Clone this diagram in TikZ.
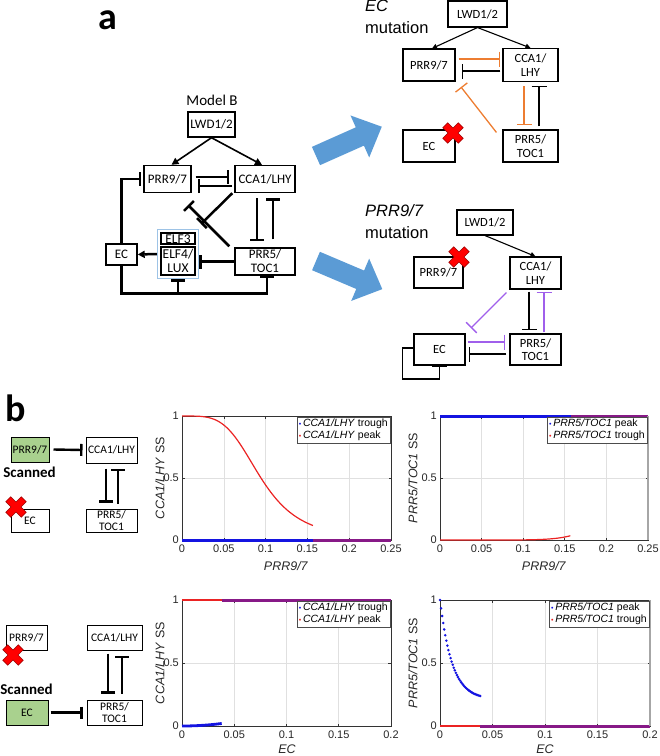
\documentclass[tikz,border=0pt]{standalone}
\usepackage{fontspec}
\setmainfont{Carlito}
\newfontfamily\plotfont{Liberation Sans}
\usetikzlibrary{arrows.meta,fit}

\definecolor{arrowblue}{RGB}{91,155,213}
\definecolor{grpblue}{RGB}{157,195,230}
\definecolor{ecorange}{RGB}{237,125,49}
\definecolor{pmpurple}{RGB}{160,95,235}
\definecolor{scangreen}{RGB}{169,209,142}
\definecolor{xred}{RGB}{255,0,0}
\definecolor{xdark}{RGB}{150,0,0}
\definecolor{mblue}{RGB}{20,20,225}
\definecolor{mred}{RGB}{235,35,35}
\definecolor{mpurple}{RGB}{135,25,135}

\tikzset{
  gene/.style={draw, line width=1.1pt, inner sep=0pt, align=center,
    font=\fontsize{12.5}{13.5}\selectfont},
  boxsize/.style 2 args={minimum width=#1, minimum height=#2},
  act/.style={-{Triangle[length=7pt,width=7pt]}},
  acts/.style={-{Triangle[length=5pt,width=5pt]}},
  inh/.style={-{Bar[width=14pt]}},
  inhs/.style={-{Bar[width=15pt]}},
  mbline/.style={line width=2.5pt},
  thinline/.style={line width=1.3pt},
  bline/.style={line width=2.4pt},
  gridline/.style={draw=black!12, line width=0.6pt},
  axisline/.style={draw=black!80, line width=0.6pt},
  thickdata/.style={draw=#1, line width=2.8pt},
  thindata/.style={draw=#1, line width=1.2pt},
  ticklab/.style={font=\plotfont\fontsize{11}{11}\selectfont, text=black!85, inner sep=2pt},
  axlab/.style={font=\plotfont\fontsize{12.5}{12.5}\selectfont, text=black!85},
  legend/.style={draw=black!70, fill=white, line width=0.5pt, anchor=north east,
    font=\plotfont\fontsize{10.5}{12}\selectfont, align=left, inner sep=2pt},
}

% red cross for a mutated gene
\newcommand{\knockout}[1]{%
  \begin{scope}[shift={#1}, rotate=45]
    \filldraw[fill=xred, draw=xdark, line width=0.6pt] (-3.5,-11) -- (3.5,-11) -- (3.5,-3.5)
      -- (11,-3.5) -- (11,3.5) -- (3.5,3.5) -- (3.5,11) -- (-3.5,11) -- (-3.5,3.5)
      -- (-11,3.5) -- (-11,-3.5) -- (-3.5,-3.5) -- cycle;
  \end{scope}}

% grid of one plot
\newcommand{\plotgrid}[2]{%
  \foreach \gx in {#2} {\draw[gridline] (\gx,0) -- (\gx,1);}
  \draw[gridline] (0,0.5) -- (#1,0.5);}

% frame, ticks and tick labels of one plot
\newcommand{\plotframe}[3]{%
  \draw[axisline] (0,0) rectangle (#2,1);
  \foreach \gx [count=\k] in {#3} {
    \draw[axisline] (\gx,0) -- ++(0,2.5pt) (\gx,1) -- ++(0,-2.5pt);
    \node[ticklab, anchor=north, yshift=-3pt] (#1x\k) at (\gx,0) {\gx};
  }
  \foreach \gy [count=\k] in {0,0.5,1} {
    \draw[axisline] (0,\gy) -- ++(2.5pt,0) (#2,\gy) -- ++(-2.5pt,0);
    \node[ticklab, anchor=east, xshift=-1pt] (#1y\k) at (0,\gy) {\gy};
  }}

% thick horizontal band of data points: colour, y, x from, x to
\newcommand{\databand}[4]{%
  \fill[#1] ([yshift=-1.5pt]#3,#2) rectangle ([yshift=1.5pt]#4,#2);}

\newcommand{\ldot}[1]{\textcolor{#1}{\fontsize{7}{7}\selectfont\raisebox{0.8pt}{•}}\,}

\begin{document}
\begin{tikzpicture}[x=1pt, y=-1pt]
\useasboundingbox (0,0) rectangle (660,756);

% Etichette dei pannelli
\node[font=\bfseries\fontsize{38}{38}\selectfont] (labA) at (108,20) {a};
\node[font=\bfseries\fontsize{38}{38}\selectfont] (labB) at (16,408) {b};

% Model B
\node[font=\fontsize{15}{15}\selectfont] (mbTitle) at (212,100) {Model B};
\begin{scope}[every node/.style={gene, line width=1.4pt, font=\fontsize{13}{14}\selectfont}]
  \node[boxsize={47pt}{25pt}] (mbLWD) at (211.5,124.5) {LWD1/2};
  \node[boxsize={47pt}{27pt}] (mbPRR97) at (167.5,179) {PRR9/7};
  \node[boxsize={60pt}{27pt}] (mbCCA) at (265,179) {CCA1/LHY};
  \node[boxsize={31pt}{21pt}] (mbEC) at (121.5,254.5) {EC};
  \node[boxsize={34pt}{11pt}, text height=9pt, text depth=0pt,
    font=\fontsize{13.5}{14}\selectfont] (mbELF3) at (178,238.5) {ELF3};
  \node[boxsize={34pt}{28pt}, font=\fontsize{13.5}{14}\selectfont] (mbELF) at (178,261) {ELF4/\\LUX};
  \node[boxsize={60pt}{27pt}] (mbPRR5) at (265,261.5) {PRR5/\\TOC1};
\end{scope}
\node[draw=grpblue, line width=1pt, inner sep=3pt, fit=(mbELF3)(mbELF)] (mbECgrp) {};

\coordinate (mbBarA) at (188,205);
\coordinate (mbBarB) at (201,224);
\draw[line width=1.6pt, act] (mbLWD.south) -- ([xshift=4pt]mbPRR97.north);
\draw[line width=1.6pt, act] (mbLWD.south) -- ([xshift=-3pt]mbCCA.north);
\draw[mbline, inh] ([xshift=4pt,yshift=2pt]mbPRR97.east) -- ([xshift=-5pt,yshift=2pt]mbCCA.west);
\draw[mbline, inh] ([xshift=-2pt,yshift=-7pt]mbCCA.west) -- ([xshift=6pt,yshift=-7pt]mbPRR97.east);
\draw[mbline, inh] ([xshift=-8pt,yshift=-5pt]mbCCA.south) -- ([xshift=-8pt,yshift=6pt]mbPRR5.north);
\draw[mbline, inh] ([xshift=8pt,yshift=8pt]mbPRR5.north) -- ([xshift=8pt,yshift=-5pt]mbCCA.south);
\draw[mbline, inh] ([xshift=-5pt,yshift=1pt]mbPRR5.north west) -- (mbBarA);
\draw[mbline, inh] ([xshift=-2pt]mbCCA.south west) -- (mbBarB);
\draw[mbline, act] (mbECgrp.west) -- (mbEC.east);
\draw[mbline, inh] (mbPRR5.west) -- (mbPRR5.west -| mbECgrp.east);
\draw[mbline, inh] (mbEC.north) |- ([xshift=-2pt]mbPRR97.west);
\draw[mbline, inh] (mbEC.south) -- ++(0,28) coordinate (mbLoop) -| ([xshift=2pt]mbPRR5.south);
\draw[mbline, inh] (mbLoop -| mbECgrp.south) -- (mbECgrp.south);

% Frecce blu
\begin{scope}[shift={(316,156)}, rotate=24]
  \fill[arrowblue] (0,-10) -- (48,-10) -- (48,-23) -- (72,0) -- (48,23) -- (48,10) -- (0,10) -- cycle;
\end{scope}
\begin{scope}[shift={(316,261)}, rotate=-23]
  \fill[arrowblue] (0,-10) -- (48,-10) -- (48,-23) -- (72,0) -- (48,23) -- (48,10) -- (0,10) -- cycle;
\end{scope}

% EC mutation
\node[anchor=north west, align=left, inner sep=0pt,
  font=\plotfont\fontsize{16.5}{22}\selectfont] (ecTitle) at (365,0) {\textit{EC}\\mutation};
\node[gene, boxsize={59pt}{26pt}] (ecLWD) at (477.5,14) {LWD1/2};
\node[gene, boxsize={52pt}{32pt}] (ecPRR97) at (429,65) {PRR9/7};
\node[gene, boxsize={55pt}{33pt}] (ecCCA) at (530.5,65) {CCA1/\\LHY};
\node[gene, boxsize={52pt}{32pt}] (ecEC) at (429,146) {EC};
\node[gene, boxsize={55pt}{32pt}] (ecPRR5) at (530.5,146) {PRR5/\\TOC1};
\coordinate (ecBar) at (461,87);
\draw[line width=1.1pt, acts] (ecLWD.south) -- ([xshift=3pt]ecPRR97.north);
\draw[line width=1.1pt, acts] (ecLWD.south) -- (ecCCA.north);
\draw[thinline, ecorange, inhs] ([xshift=3pt,yshift=6pt]ecPRR97.east) -- ([xshift=-2pt,yshift=6pt]ecCCA.west);
\draw[thinline, inhs] ([xshift=-2pt,yshift=-6pt]ecCCA.west) -- ([xshift=6pt,yshift=-6pt]ecPRR97.east);
\draw[thinline, ecorange, inhs] ([xshift=-6.5pt,yshift=-4pt]ecCCA.south) -- ([xshift=-6.5pt,yshift=4pt]ecPRR5.north);
\draw[thinline, inhs] ([xshift=8.5pt,yshift=3pt]ecPRR5.north) -- ([xshift=8.5pt,yshift=-4pt]ecCCA.south);
\draw[thinline, ecorange, inhs] ([xshift=-6pt,yshift=-3pt]ecPRR5.north west) -- (ecBar);
\knockout{(453,133)}

% PRR9/7 mutation
\node[anchor=north west, align=left, inner sep=0pt,
  font=\plotfont\fontsize{16.5}{22}\selectfont] (pmTitle) at (365,204) {\textit{PRR9/7}\\mutation};
\node[gene, boxsize={56pt}{25pt}] (pmLWD) at (485,222.5) {LWD1/2};
\node[gene, boxsize={49pt}{31pt}] (pmPRR97) at (438.5,272.5) {PRR9/7};
\node[gene, boxsize={51pt}{32pt}] (pmCCA) at (535.5,273) {CCA1/\\LHY};
\node[gene, boxsize={51pt}{31pt}] (pmEC) at (439.5,349.5) {EC};
\node[gene, boxsize={51pt}{31pt}] (pmPRR5) at (535.5,349.5) {PRR5/\\TOC1};
\coordinate (pmBar) at (471,328);
\draw[line width=1.1pt, acts] (pmLWD.south) -- (pmCCA.north);
\draw[thinline, pmpurple, inhs] ([xshift=-3pt,yshift=-3pt]pmCCA.south west) -- (pmBar);
\draw[thinline, inhs] ([xshift=-6.5pt,yshift=-2pt]pmCCA.south) -- ([xshift=-6.5pt,yshift=3pt]pmPRR5.north);
\draw[thinline, pmpurple, inhs] ([xshift=8.5pt,yshift=1pt]pmPRR5.north) -- ([xshift=8.5pt,yshift=-2pt]pmCCA.south);
\draw[thinline, pmpurple, inhs] ([xshift=2pt,yshift=7.5pt]pmEC.east) -- ([xshift=-4pt,yshift=7.5pt]pmPRR5.west);
\draw[thinline, inhs] ([xshift=-3pt,yshift=-4.5pt]pmPRR5.west) -- ([xshift=3pt,yshift=-4.5pt]pmEC.east);
\draw[thinline, inhs] ([yshift=1.5pt]pmEC.west) -| ++(-11,31) -| (pmEC.south);
\knockout{(459,257)}

% Pannello b, riga 1
\begin{scope}[every node/.style={gene, line width=1pt, font=\fontsize{11.5}{12}\selectfont}]
  \node[boxsize={38pt}{25pt}, fill=scangreen] (b1PRR97) at (30,449.5) {PRR9/7};
  \node[boxsize={51pt}{26pt}] (b1CCA) at (111.5,450) {CCA1/LHY};
  \node[boxsize={38pt}{23pt}] (b1EC) at (30,520.5) {EC};
  \node[boxsize={51pt}{23pt}] (b1PRR5) at (111.5,520.5) {PRR5/\\TOC1};
\end{scope}
\node[font=\bfseries\fontsize{15}{15}\selectfont] (b1Scan) at (29.5,472.5) {Scanned};
\draw[bline, -{Bar[width=12pt]}] ([xshift=4pt]b1PRR97.east) -- ([xshift=-3pt]b1CCA.west);
\draw[bline, inh] ([xshift=-5.5pt,yshift=-5pt]b1CCA.south) -- ([xshift=-5.5pt,yshift=6pt]b1PRR5.north);
\draw[bline, inh] ([xshift=6.5pt,yshift=5pt]b1PRR5.north) -- ([xshift=6.5pt,yshift=-5pt]b1CCA.south);
\knockout{(16,507)}

% Pannello b, riga 2
\begin{scope}[every node/.style={gene, line width=1pt, font=\fontsize{11.5}{12}\selectfont}]
  \node[boxsize={41pt}{25pt}] (b2PRR97) at (26.5,637.5) {PRR9/7};
  \node[boxsize={55pt}{25pt}] (b2CCA) at (114.5,637.5) {CCA1/LHY};
  \node[boxsize={42pt}{25pt}, fill=scangreen] (b2EC) at (27,712.5) {EC};
  \node[boxsize={55pt}{25pt}] (b2PRR5) at (114.5,712.5) {PRR5/\\TOC1};
\end{scope}
\node[font=\bfseries\fontsize{15}{15}\selectfont] (b2Scan) at (26.5,689) {Scanned};
\draw[bline, -{Bar[width=12pt]}] ([xshift=2pt]b2EC.east) -- ([xshift=-4pt]b2PRR5.west);
\draw[bline, inh] ([xshift=-6.5pt,yshift=-3pt]b2CCA.south) -- ([xshift=-6.5pt,yshift=6pt]b2PRR5.north);
\draw[bline, inh] ([xshift=7.5pt,yshift=6pt]b2PRR5.north) -- ([xshift=7.5pt,yshift=-5pt]b2CCA.south);
\knockout{(13,655)}

% Grafico 1: CCA1/LHY vs PRR9/7
\begin{scope}[shift={(182,540)}, x=836pt, y=124pt]
  \plotgrid{0.25}{0.05,0.1,0.15,0.2}
  \plotframe{pa}{0.25}{0,0.05,0.1,0.15,0.2,0.25}
  \databand{mblue}{0}{0}{0.157}
  \databand{mpurple}{0}{0.157}{0.25}
  \path[thindata=mred] plot[domain=0:0.157, samples=60] (\x,{1/(1+(\x/0.0945)^4)});
\end{scope}
\node[legend] (paLeg) at (390,417) {\ldot{mblue}\textit{CCA1/LHY} trough\\\ldot{mred}\textit{CCA1/LHY} peak};
\node[axlab] (paXlab) at (286,566) {\textit{PRR9/7}};
\node[axlab, rotate=90] (paYlab) at (160,478) {\textit{CCA1/LHY} SS};

% Grafico 2: PRR5/TOC1 vs PRR9/7
\begin{scope}[shift={(440,540)}, x=832pt, y=124pt]
  \plotgrid{0.25}{0.05,0.1,0.15,0.2}
  \plotframe{pb}{0.25}{0,0.05,0.1,0.15,0.2,0.25}
  \databand{mblue}{1}{0}{0.157}
  \databand{mpurple}{1}{0.157}{0.25}
  \path[thindata=mred] plot[domain=0:0.157, samples=60] (\x,{0.035*(\x/0.157)^8});
  \draw[black!35, line width=1.5pt] (0.25,0) -- (0.25,1);
\end{scope}
\node[legend] (pbLeg) at (647,417) {\ldot{mblue}\textit{PRR5/TOC1} peak\\\ldot{mred}\textit{PRR5/TOC1} trough};
\node[axlab] (pbXlab) at (544,566) {\textit{PRR9/7}};
\node[axlab, rotate=90] (pbYlab) at (413,478) {\textit{PRR5/TOC1} SS};

% Grafico 3: CCA1/LHY vs EC
\begin{scope}[shift={(182,726)}, x=1045pt, y=126pt]
  \plotgrid{0.2}{0.05,0.1,0.15}
  \plotframe{pc}{0.2}{0,0.05,0.1,0.15,0.2}
  \path[thindata=mred] plot[domain=0:0.038, samples=2] (\x,1);
  \databand{mpurple}{1}{0.038}{0.2}
  \path[thickdata=mblue] plot[domain=0:0.038, samples=20] (\x,{0.02*(\x/0.038)^2});
\end{scope}
\node[legend] (pcLeg) at (390,601) {\ldot{mblue}\textit{CCA1/LHY} trough\\\ldot{mred}\textit{CCA1/LHY} peak};
\node[axlab] (pcXlab) at (287,749) {\textit{EC}};
\node[axlab, rotate=90] (pcYlab) at (160,663) {\textit{CCA1/LHY} SS};

% Grafico 4: PRR5/TOC1 vs EC
\begin{scope}[shift={(440,726)}, x=1050pt, y=126pt]
  \plotgrid{0.2}{0.05,0.1,0.15}
  \plotframe{pd}{0.2}{0,0.05,0.1,0.15,0.2}
  \path[thindata=mred] plot[domain=0:0.038, samples=2] (\x,0);
  \databand{mpurple}{0}{0.038}{0.2}
  \foreach \i in {0,...,38}
    \fill[mblue] (\i*0.001,{0.21+0.79*exp(-\i*0.001/0.0115)}) circle (1.4pt);
  \draw[black!35, line width=1.5pt] (0.2,0) -- (0.2,1);
\end{scope}
\node[legend] (pdLeg) at (649,601) {\ldot{mblue}\textit{PRR5/TOC1} peak\\\ldot{mred}\textit{PRR5/TOC1} trough};
\node[axlab] (pdXlab) at (545,749) {\textit{EC}};
\node[axlab, rotate=90] (pdYlab) at (413,663) {\textit{PRR5/TOC1} SS};

\end{tikzpicture}
\end{document}
